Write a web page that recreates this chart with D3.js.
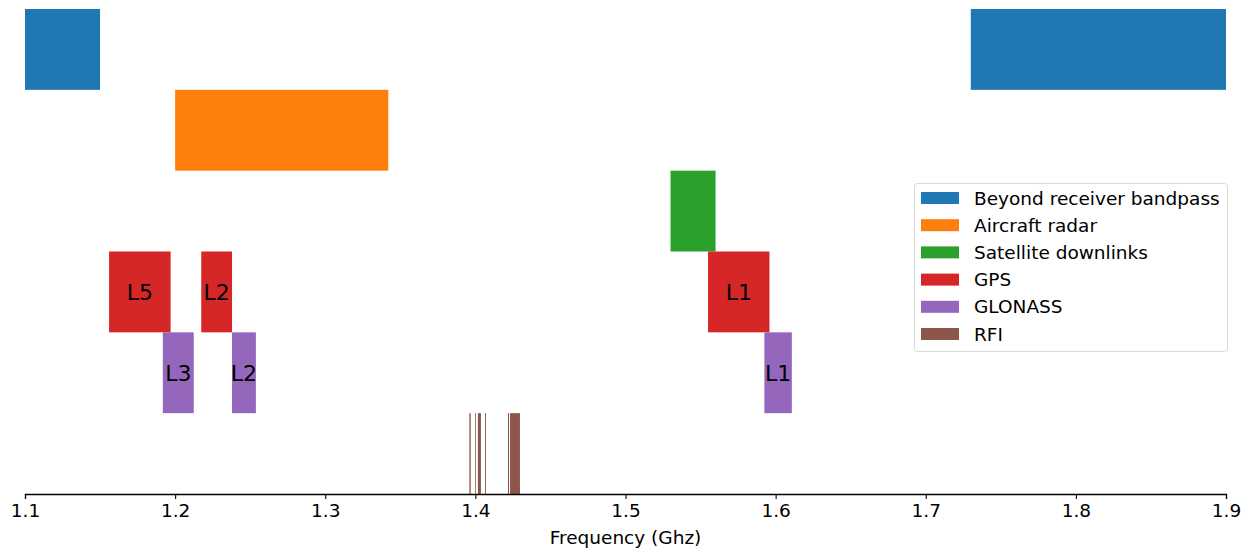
<!DOCTYPE html>
<html>
<head>
<meta charset="utf-8">
<script src="https://cdn.jsdelivr.net/npm/d3@7"></script>
<style>
  html, body { margin: 0; padding: 0; background: #fff; }
  svg { display: block; font-family: "DejaVu Sans", sans-serif; }
</style>
</head>
<body>
<svg id="chart" width="1247" height="548"></svg>
<script>
// ---- data ----
const categories = ["Beyond receiver bandpass", "Aircraft radar", "Satellite downlinks", "GPS", "GLONASS", "RFI"];
const colors = ["#1f77b4", "#ff7f0e", "#2ca02c", "#d62728", "#9467bd", "#8c564b"];

const beyondStart = [1.100, 1.730];
const beyondEnd   = [1.150, 1.900];

const radarStart = [1.200];
const radarEnd   = [1.342];

const satStart = [1.530];
const satEnd   = [1.560];

const gpsStart  = [1.1560, 1.2174, 1.5550];
const gpsEnd    = [1.1970, 1.2379, 1.5959];
const gpsLabels = ["L5", "L2", "L1"];

const glonassStart  = [1.1918, 1.2379, 1.5925];
const glonassEnd    = [1.2124, 1.2538, 1.6108];
const glonassLabels = ["L3", "L2", "L1"];

const rfiStart = [1.3960, 1.3998, 1.4017, 1.4064, 1.4217, 1.4231];
const rfiEnd   = [1.3969, 1.4003, 1.4037, 1.4070, 1.4224, 1.4297];

const xTicks = [1.1, 1.2, 1.3, 1.4, 1.5, 1.6, 1.7, 1.8, 1.9];

// ---- build rows ----
const rows = [
  {cat: 0, s: beyondStart, e: beyondEnd},
  {cat: 1, s: radarStart, e: radarEnd},
  {cat: 2, s: satStart, e: satEnd},
  {cat: 3, s: gpsStart, e: gpsEnd, labels: gpsLabels},
  {cat: 4, s: glonassStart, e: glonassEnd, labels: glonassLabels},
  {cat: 5, s: rfiStart, e: rfiEnd}
];
const bars = [];
rows.forEach(r => r.s.forEach((s, i) => bars.push({cat: r.cat, s: s, e: r.e[i], label: r.labels ? r.labels[i] : null})));

const svg = d3.select("#chart");
const x = d3.scaleLinear().domain([1.1, 1.9]).range([25, 1226]);
const y = d3.scaleBand().domain(d3.range(categories.length)).range([9, 494]).padding(0);

svg.append("g").selectAll("rect").data(bars).join("rect")
  .attr("x", d => x(d.s))
  .attr("width", d => x(d.e) - x(d.s))
  .attr("y", d => y(d.cat))
  .attr("height", y.bandwidth())
  .attr("fill", d => colors[d.cat]);

svg.append("g").selectAll("text").data(bars.filter(d => d.label)).join("text")
  .attr("x", d => x((d.s + d.e) / 2))
  .attr("y", d => y(d.cat) + y.bandwidth() / 2)
  .attr("dy", "0.36em")
  .attr("text-anchor", "middle")
  .attr("font-size", 22)
  .attr("fill", "#000")
  .text(d => d.label);

// axis
const axis = d3.axisBottom(x).tickValues(xTicks).tickFormat(d3.format(".1f")).tickSizeOuter(0).tickSize(5).tickPadding(5);
const gx = svg.append("g").attr("transform", "translate(0,494)").call(axis);
gx.select(".domain").attr("stroke", "#000").attr("stroke-width", 1.3);
gx.selectAll(".tick line").attr("stroke", "#000").attr("stroke-width", 1.1);
gx.selectAll(".tick text").attr("font-size", 18.5).attr("font-family", "DejaVu Sans").attr("fill", "#000");

svg.append("text")
  .attr("x", x(1.5)).attr("y", 544)
  .attr("text-anchor", "middle")
  .attr("font-size", 18.5)
  .attr("fill", "#000")
  .text("Frequency (Ghz)");

// legend
const lg = svg.append("g");
lg.append("rect")
  .attr("x", 914.5).attr("y", 183.5).attr("width", 313).attr("height", 168)
  .attr("rx", 3).attr("fill", "#fff").attr("fill-opacity", 0.8)
  .attr("stroke", "#d9d9d9").attr("stroke-width", 1);
const li = lg.selectAll("g.item").data(categories).join("g")
  .attr("transform", (d, i) => `translate(0,${198 + i * 27.2})`);
li.append("rect").attr("x", 921).attr("y", -6).attr("width", 38).attr("height", 12)
  .attr("fill", (d, i) => colors[i]);
li.append("text").attr("x", 974).attr("y", 0).attr("dy", "0.36em")
  .attr("font-size", 18.5).attr("fill", "#000").text(d => d);
</script>
</body>
</html>
